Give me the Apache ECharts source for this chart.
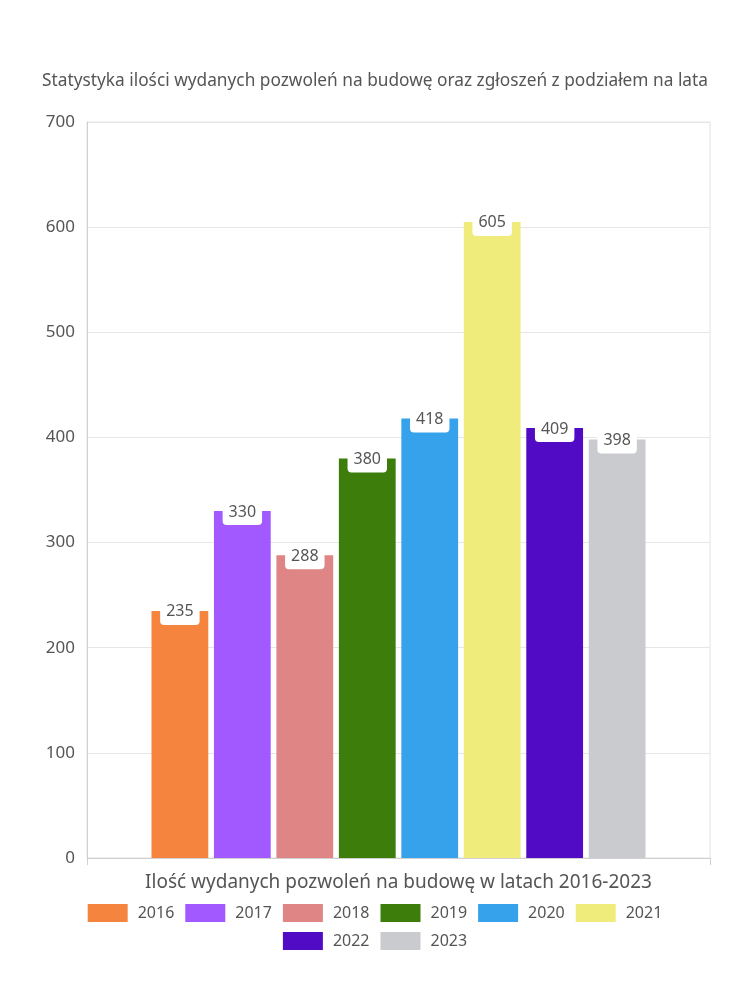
<!DOCTYPE html>
<html>
<head>
<meta charset="utf-8">
<script src="https://cdn.jsdelivr.net/npm/echarts@6/dist/echarts.min.js"></script>
<style>html,body{margin:0;padding:0;background:#fff;}#c{width:750px;height:1000px;}</style>
</head>
<body>
<div id="c"></div>
<script>
const years = ['2016','2017','2018','2019','2020','2021','2022','2023'];
const values = [235, 330, 288, 380, 418, 605, 409, 398];
const colors = ['#F5843F','#A259FF','#E08585','#3D7D0C','#36A2EB','#F0EC7C','#520BC4','#C9CBCF'];
const categories = [''];
const yTicks = { min: 0, max: 700, interval: 100 };
const titleText = 'Statystyka ilości wydanych pozwoleń na budowę oraz zgłoszeń z podziałem na lata';
const xName = 'Ilość wydanych pozwoleń na budowę w latach 2016-2023';

const FONT = 'Noto Sans';
const chart = echarts.init(document.getElementById('c'), null, {renderer: 'canvas'});
const series = years.map((y, i) => ({
  name: y,
  type: 'bar',
  data: [values[i]],
  itemStyle: { color: colors[i] },
  barGap: '10%',
  barCategoryGap: '20.7%',
  label: {
    show: true,
    position: 'top',
    distance: -14,
    backgroundColor: '#fff',
    borderRadius: 4,
    padding: [5, 6],
    color: '#555',
    fontFamily: FONT,
    fontSize: 16
  }
}));
const legendBase = {
  left: 'center',
  itemWidth: 40,
  itemHeight: 18,
  itemGap: 11,
  icon: 'rect',
  textStyle: { color: '#555', fontSize: 16, fontFamily: FONT, padding: [0, 0, 0, 5] }
};
chart.setOption({
  animation: false,
  title: {
    text: titleText,
    left: 'center',
    top: 68,
    textStyle: { color: '#555', fontSize: 17.3, fontWeight: 'normal', fontFamily: FONT }
  },
  grid: { left: 87, right: 40, top: 122, bottom: 142, show: true, borderColor: '#e2e2e2', borderWidth: 1 },
  legend: [
    Object.assign({}, legendBase, { top: 899, data: years.slice(0, 6) }),
    Object.assign({}, legendBase, { top: 927, data: years.slice(6) })
  ],
  xAxis: {
    type: 'category',
    data: categories,
    name: xName,
    nameLocation: 'middle',
    nameGap: 15,
    nameTextStyle: { color: '#555', fontSize: 19, fontFamily: FONT },
    axisLine: { lineStyle: { color: '#d0d0d0' } },
    axisTick: { show: true, length: 7, lineStyle: { color: '#d0d0d0' } },
    axisLabel: { show: false }
  },
  yAxis: {
    type: 'value',
    min: yTicks.min, max: yTicks.max, interval: yTicks.interval,
    axisLine: { show: true, lineStyle: { color: '#d0d0d0' } },
    axisTick: { show: false },
    axisLabel: { color: '#555', fontSize: 17, fontFamily: FONT, margin: 12 },
    splitLine: { lineStyle: { color: '#e6e6e6' } }
  },
  series: series
});
</script>
</body>
</html>
